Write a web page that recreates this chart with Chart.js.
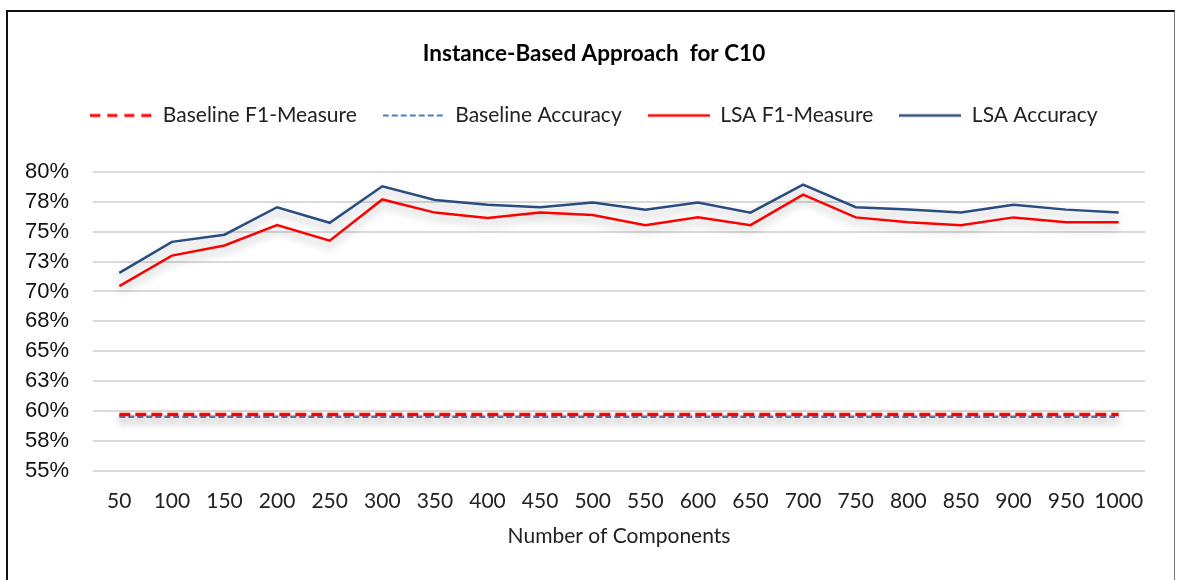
<!DOCTYPE html>
<html>
<head>
<meta charset="utf-8">
<script src="https://cdn.jsdelivr.net/npm/chart.js@4"></script>
<style>
  body { margin: 0; background: #fff; }
  #frame {
    position: absolute; left: 6px; top: 10px; width: 1166px; height: 620px;
    border-left: 2px solid #111; border-top: 2px solid #111; border-right: 1px solid #777;
  }
  #wrap { position: absolute; left: 0; top: 0; width: 1177px; height: 580px; }
</style>
</head>
<body>
<div id="frame"></div>
<div id="wrap"><canvas id="chart"></canvas></div>
<script>
// number of components on the x axis
const components = ['50', '100', '150', '200', '250', '300', '350', '400', '450', '500',
    '550', '600', '650', '700', '750', '800', '850', '900', '950', '1000'];

// values in percent
const baselineF1 = 59.7;
const baselineAccuracy = 59.5;
const lsaF1 = [70.45, 73.0, 73.85, 75.55, 74.25, 77.7, 76.6, 76.15, 76.6, 76.4,
    75.55, 76.2, 75.55, 78.1, 76.2, 75.8, 75.55, 76.2, 75.8, 75.8];
const lsaAccuracy = [71.55, 74.15, 74.75, 77.05, 75.75, 78.8, 77.65, 77.25, 77.05, 77.45,
    76.85, 77.45, 76.6, 78.95, 77.05, 76.85, 76.6, 77.25, 76.85, 76.6];

const yMin = 55, yMax = 80, yStep = 2.5;

// little line samples for the legend (the built-in line style ignores dashes)
function legendLine(color, width, dash) {
    const c = document.createElement('canvas');
    c.width = 62;
    c.height = 6;
    const g = c.getContext('2d');
    g.strokeStyle = color;
    g.lineWidth = width;
    g.setLineDash(dash);
    g.beginPath();
    g.moveTo(0, 3);
    g.lineTo(62, 3);
    g.stroke();
    return c;
}

// soft drop shadow under the lines, like the office chart
const shadowPlugin = {
    id: 'lineShadow',
    beforeDatasetsDraw(chart) {
        const ctx = chart.ctx;
        ctx.save();
        ctx.shadowColor = 'rgba(0, 0, 0, 0.3)';
        ctx.shadowBlur = 9;
        ctx.shadowOffsetY = 5;
    },
    afterDatasetsDraw(chart) {
        chart.ctx.restore();
    }
};

// extra room under the legend
const legendGap = {
    id: 'legendGap',
    beforeInit(chart) {
        const fit = chart.legend.fit;
        chart.legend.fit = function () {
            fit.bind(chart.legend)();
            this.height += 36;
        };
    }
};

const calibri = "Lato, 'Liberation Sans', sans-serif";

new Chart(document.getElementById('chart'), {
    type: 'line',
    data: {
        labels: components,
        datasets: [
            {
                label: 'Baseline F1-Measure',
                data: components.map(() => baselineF1),
                borderColor: '#ff0000',
                backgroundColor: '#ff0000',
                borderWidth: 3.5,
                borderDash: [11, 5],
                pointRadius: 0,
                pointStyle: legendLine('#ff0000', 3, [10, 7])
            },
            {
                label: 'Baseline Accuracy',
                data: components.map(() => baselineAccuracy),
                borderColor: '#4a7ebb',
                backgroundColor: '#4a7ebb',
                borderWidth: 2.5,
                borderDash: [6, 3],
                pointRadius: 0,
                pointStyle: legendLine('#4a7ebb', 2, [6, 3])
            },
            {
                label: 'LSA F1-Measure',
                data: lsaF1,
                borderColor: '#ff0000',
                backgroundColor: '#ff0000',
                borderWidth: 2.5,
                pointRadius: 0,
                pointStyle: legendLine('#ff0000', 2.5, [])
            },
            {
                label: 'LSA Accuracy',
                data: lsaAccuracy,
                borderColor: '#2a4d7f',
                backgroundColor: '#2a4d7f',
                borderWidth: 2.5,
                pointRadius: 0,
                pointStyle: legendLine('#2a4d7f', 2.5, [])
            }
        ]
    },
    options: {
        responsive: true,
        maintainAspectRatio: false,
        animation: false,
        layout: { padding: { left: 23, right: 12, top: 0, bottom: 27 } },
        plugins: {
            title: {
                display: true,
                text: 'Instance-Based Approach  for C10',
                color: '#000',
                font: { family: calibri, size: 22.5, weight: 'bold' },
                padding: { top: 40, bottom: 12 }
            },
            legend: {
                position: 'top',
                labels: {
                    usePointStyle: true,
                    pointStyleWidth: 62,
                    color: '#222',
                    font: { family: calibri, size: 21 },
                    padding: 26
                }
            },
            tooltip: { enabled: false }
        },
        scales: {
            x: {
                offset: true,
                grid: { display: false, drawTicks: false },
                border: { display: false },
                ticks: {
                    color: '#222',
                    font: { family: calibri, size: 21 },
                    padding: 18,
                    maxRotation: 0,
                    autoSkip: false
                },
                title: {
                    display: true,
                    text: 'Number of Components',
                    color: '#222',
                    font: { family: calibri, size: 21 },
                    padding: { top: -8, bottom: 4 }
                }
            },
            y: {
                min: yMin,
                max: yMax,
                afterFit: (scale) => { scale.width = 70; },
                grid: { color: '#d9d9d9', lineWidth: 2, drawTicks: false },
                border: { display: false },
                ticks: {
                    stepSize: yStep,
                    color: '#111',
                    font: { family: "'Liberation Sans', Arial, sans-serif", size: 22 },
                    padding: 24,
                    callback: (v) => Math.round(v) + '%'
                }
            },
            // empty strip on the right so the title and legend sit where they do in the original
            spacer: {
                position: 'right',
                afterFit: (scale) => { scale.width = 20; },
                grid: { display: false, drawTicks: false },
                border: { display: false },
                ticks: { display: false }
            }
        }
    },
    plugins: [shadowPlugin, legendGap]
});
</script>
</body>
</html>
